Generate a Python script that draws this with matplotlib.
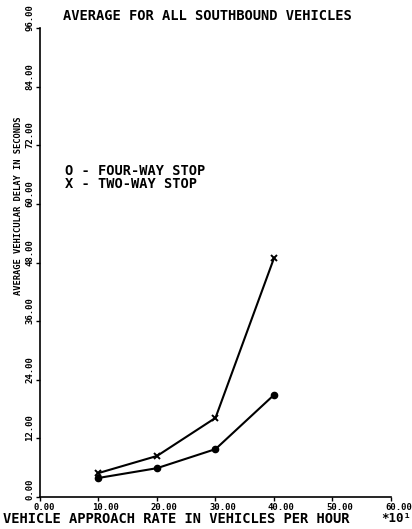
import matplotlib
matplotlib.use("Agg")
import matplotlib.pyplot as plt
import matplotlib.transforms as mtransforms

rate = [10, 20, 30, 40]
four_way = [3.9, 5.9, 9.8, 20.9]
two_way = [4.9, 8.4, 16.2, 48.9]

x_ticks = [0, 10, 20, 30, 40, 50, 60]
y_ticks = [0, 12, 24, 36, 48, 60, 72, 84, 96]

font = "DejaVu Sans Mono"

fig = plt.figure(figsize=(4.12, 5.29), dpi=100)
W, H = 412, 529
ax = fig.add_axes([40 / W, 32 / H, (391 - 40) / W, (497 - 28) / H])

ax.plot(rate, four_way, color="black", lw=1.5, marker="o", ms=4.5)
ax.plot(rate, two_way, color="black", lw=1.5, marker="x", ms=5, mew=1.4)

ax.set_xlim(0, 60)
ax.set_ylim(0, 96)
ax.spines["top"].set_visible(False)
ax.spines["right"].set_visible(False)
ax.spines["left"].set_linewidth(1.2)
ax.spines["bottom"].set_linewidth(1.2)

ax.set_xticks(x_ticks)
ax.set_xticklabels(["%.2f" % v for v in x_ticks], family=font, weight="bold", fontsize=6.5)
ax.set_yticks(y_ticks)
ax.set_yticklabels(["%.2f" % v for v in y_ticks], family=font, weight="bold", fontsize=6.5,
                   rotation=90)
ax.tick_params(axis="both", direction="out", length=3, width=1, pad=1)

dx = mtransforms.ScaledTranslation(-6 / 100, 0, fig.dpi_scale_trans)
for lab in ax.get_xticklabels():
    lab.set_ha("left")
    lab.set_transform(lab.get_transform() + dx)
dy = mtransforms.ScaledTranslation(0, -3 / 100, fig.dpi_scale_trans)
for lab in ax.get_yticklabels():
    lab.set_va("bottom")
    lab.set_transform(lab.get_transform() + dy)

fig.text(63 / W, 1 - 16.5 / H, "AVERAGE FOR ALL SOUTHBOUND VEHICLES", family=font,
         weight="bold", fontsize=9.9, va="center", ha="left")
fig.text(3 / W, 1 - 519 / H, "VEHICLE APPROACH RATE IN VEHICLES PER HOUR", family=font,
         weight="bold", fontsize=9.9, va="center", ha="left")
fig.text(381 / W, 1 - 519 / H, "*10\u00b9", family=font,
         weight="bold", fontsize=9, va="center", ha="left")
fig.text(19 / W, 1 - 206 / H, "AVERAGE VEHICULAR DELAY IN SECONDS", family=font,
         weight="bold", fontsize=6.3, va="center", ha="center", rotation=90)

fig.text(65 / W, 1 - 171 / H, "O - FOUR-WAY STOP", family=font,
         weight="bold", fontsize=9.8, va="center", ha="left")
fig.text(65 / W, 1 - 184.5 / H, "X - TWO-WAY STOP", family=font,
         weight="bold", fontsize=9.8, va="center", ha="left")

fig.savefig("out.png", dpi=100)
